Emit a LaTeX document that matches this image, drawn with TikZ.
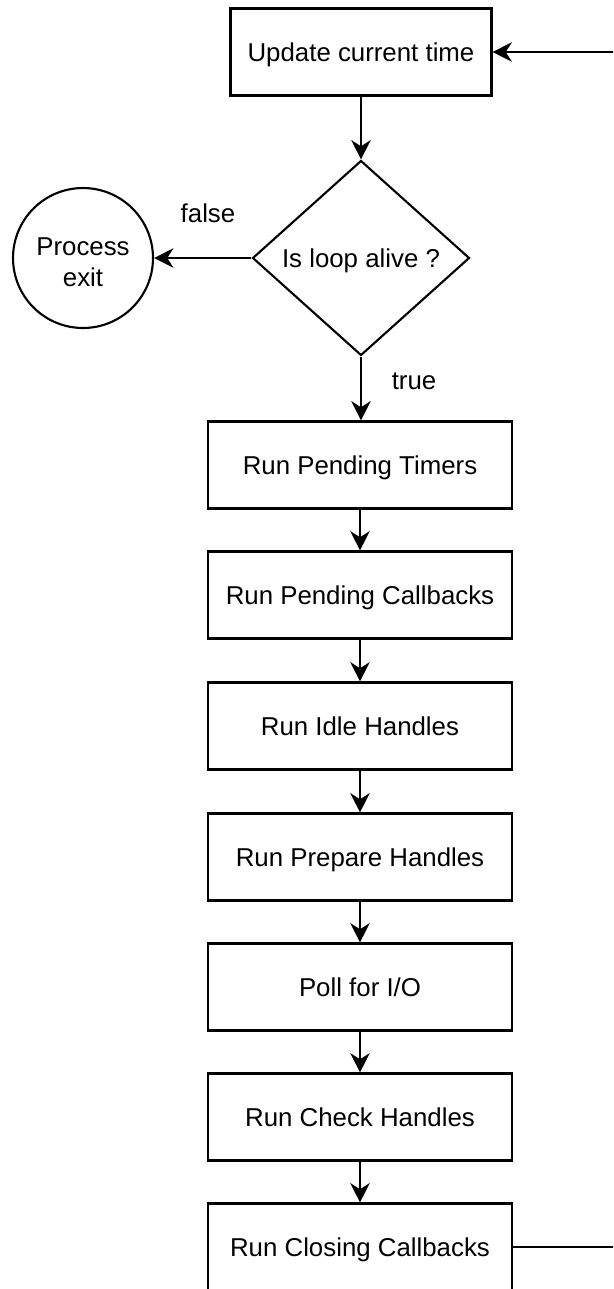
\documentclass[tikz,border=0pt]{standalone}
\usepackage{fontspec}
\setmainfont{Liberation Sans}
\usetikzlibrary{shapes.geometric}
\usetikzlibrary{arrows.meta}
\tikzset{
    stepbox/.style = {rectangle, draw=black, line width=1.2pt, minimum width=6.08cm, minimum height=1.74cm, text height=10.6pt, text depth=0pt, align=center, font=\fontsize{14.7}{17.6}\selectfont},
    topbox/.style = {stepbox, minimum width=5.22cm},
    decision/.style = {diamond, draw=black, line width=1.2pt, inner sep=0pt, aspect=1.11, minimum width=4.34cm, minimum height=3.9cm, text height=10.6pt, text depth=0pt, align=center, font=\fontsize{14.7}{17.6}\selectfont},
    terminal/.style = {circle, draw=black, line width=1.2pt, minimum size=2.8cm, inner sep=0pt, align=center, font=\fontsize{14.7}{17.6}\selectfont},
    lbl/.style = {font=\fontsize{14.7}{17.6}\selectfont},
    flow/.style = {-{Stealth[length=11pt,width=11pt,inset=3.5pt]}, line width=1.2pt},
    loopback/.style = {line width=1.2pt}
}

\begin{document}
\begin{tikzpicture}[x=0.02cm,y=-0.02cm]
\useasboundingbox (0,0) rectangle (613,1289);
\clip (0,0) rectangle (613,1289);

\node[topbox] at (361, 52) (update) {Update current time};
\node[decision] at (361, 258) (alive) {Is loop alive ?};
\node[terminal] at (83, 258) (exit) {\raisebox{-2.5pt}[\height][\depth]{\parbox{2cm}{\centering Process\\exit}}};
\node[stepbox] at (360, 465) (timers) {Run Pending Timers};
\node[stepbox] at (360, 595) (pending) {Run Pending Callbacks};
\node[stepbox] at (360, 726) (idle) {Run Idle Handles};
\node[stepbox] at (360, 857) (prepare) {Run Prepare Handles};
\node[stepbox] at (360, 987) (poll) {Poll for I/O};
\node[stepbox] at (360, 1117) (check) {Run Check Handles};
\node[stepbox] at (360, 1247) (closing) {Run Closing Callbacks};

\node[lbl] at (208, 213) (lfalse) {false};
\node[lbl] at (414, 381) (ltrue) {true};

\draw[flow] (update) -- (alive);
\draw[flow] (alive) -- (exit);
\draw[flow] (alive.south) -- (alive.south |- timers.north);
\draw[flow] (timers) -- (pending);
\draw[flow] (pending) -- (idle);
\draw[flow] (idle) -- (prepare);
\draw[flow] (prepare) -- (poll);
\draw[flow] (poll) -- (check);
\draw[flow] (check) -- (closing);

% back to the top
\coordinate (turn) at (660, 1247);
\draw[loopback] (closing.east) -- (turn);
\draw[flow] (turn) |- (update.east);

\end{tikzpicture}
\end{document}
